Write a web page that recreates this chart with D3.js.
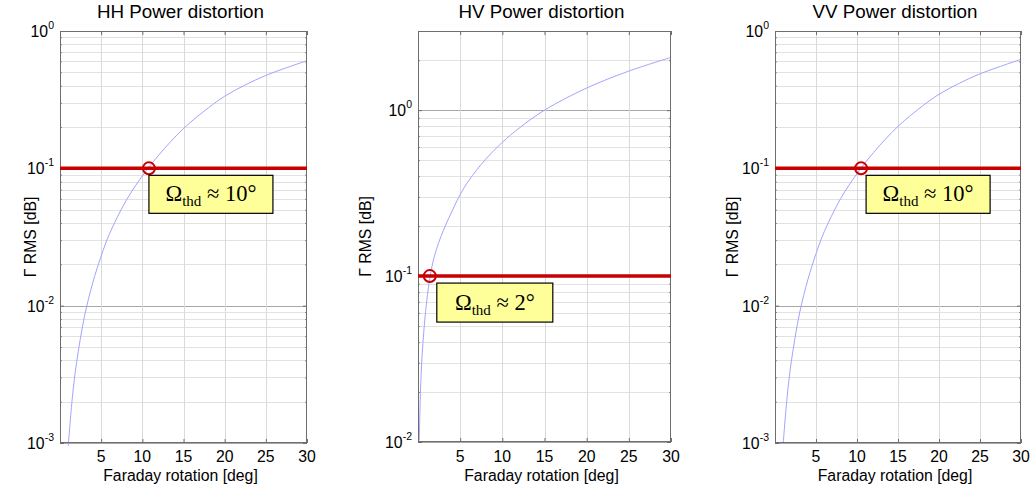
<!DOCTYPE html>
<html>
<head>
<meta charset="utf-8">
<script src="https://cdn.jsdelivr.net/npm/d3@7"></script>
<style>
  html, body { margin: 0; padding: 0; background: #fff; }
  svg { display: block; }
  text { font-family: "Liberation Sans", Arial, sans-serif; fill: #000; }
</style>
</head>
<body>
<svg id="chart" width="1035" height="493"></svg>
<script>
// Panel titles
const titles = ["HH Power distortion", "HV Power distortion", "VV Power distortion"];

// Faraday rotation samples [deg] and Γ RMS [dB] for each channel
const hhAngle = [1, 1.5, 2, 3, 4, 5, 6, 8, 10, 12, 15, 18, 20, 22.5, 25, 27.5, 30];
const hhGamma = [0.00095, 0.00214, 0.0038, 0.0085, 0.0148, 0.023, 0.0332, 0.0578, 0.088, 0.125, 0.195, 0.275, 0.335, 0.405, 0.475, 0.54, 0.608];

const hvAngle = [0.15, 0.3, 0.5, 0.9, 1.4, 2, 3, 4, 5, 6, 8, 10, 12, 15, 20, 25, 30];
const hvGamma = [0.0102, 0.0205, 0.034, 0.061, 0.097, 0.135, 0.188, 0.244, 0.31, 0.375, 0.505, 0.64, 0.78, 1.0, 1.36, 1.72, 2.08];

const vvAngle = [1, 1.5, 2, 3, 4, 5, 6, 8, 10, 12, 15, 18, 20, 22.5, 25, 27.5, 30];
const vvGamma = [0.00099, 0.00223, 0.00395, 0.00885, 0.0154, 0.0239, 0.0345, 0.0601, 0.0915, 0.13, 0.202, 0.285, 0.346, 0.417, 0.488, 0.553, 0.622];

// Threshold level and the rotation at which each curve crosses it
const threshold = [0.1, 0.1, 0.1];
const thdAngle = [10.8, 1.4, 10.5];
const thdLabel = ["10°", "2°", "10°"];

// Axis ticks
const xTicks = [5, 10, 15, 20, 25, 30];
const yDomains = [[0.001, 1], [0.01, 3], [0.001, 1]];
const yExponents = [[0, -1, -2, -3], [0, -1, -2], [0, -1, -2, -3]];

const series = [
  { angle: hhAngle, gamma: hhGamma },
  { angle: hvAngle, gamma: hvGamma },
  { angle: vvAngle, gamma: vvGamma }
];

// Plot-area geometry of the three axes
const frames = [
  { left: 60, right: 307, top: 31, bottom: 443, ylab: 31, box: { dx: 0, dy: 7, w: 124, h: 38 } },
  { left: 418, right: 671, top: 31, bottom: 442, ylab: 366, box: { dx: 7, dy: 7, w: 116, h: 39 } },
  { left: 775, right: 1021, top: 31, bottom: 443, ylab: 733, box: { dx: 5, dy: 7, w: 124, h: 38 } }
];

const svg = d3.select("#chart");

frames.forEach((f, i) => {
  const g = svg.append("g");
  const x = d3.scaleLinear().domain([0, 30]).range([f.left, f.right]);
  const y = d3.scaleLog().domain(yDomains[i]).range([f.bottom, f.top]);

  // horizontal grid: every 1..9 × decade, decades darker
  const [lo, hi] = yDomains[i];
  const minor = [];
  for (let e = Math.floor(Math.log10(lo)); e <= Math.ceil(Math.log10(hi)); e++) {
    for (let m = 1; m <= 9; m++) {
      const v = m * Math.pow(10, e);
      if (v >= lo * 0.9999 && v <= hi * 1.0001) minor.push({ v, major: m === 1 });
    }
  }
  g.append("g").selectAll("line").data(minor).join("line")
    .attr("x1", f.left).attr("x2", f.right)
    .attr("y1", d => Math.round(y(d.v)) + 0.5).attr("y2", d => Math.round(y(d.v)) + 0.5)
    .attr("stroke", d => d.major ? "#a8a8a8" : "#e2e2e2")
    .attr("stroke-width", 1);

  // vertical grid
  g.append("g").selectAll("line").data(xTicks.slice(0, -1)).join("line")
    .attr("x1", d => Math.round(x(d)) + 0.5).attr("x2", d => Math.round(x(d)) + 0.5)
    .attr("y1", f.top).attr("y2", f.bottom)
    .attr("stroke", "#dadada").attr("stroke-width", 1);

  // axes with inward ticks (MATLAB style)
  const xAxisB = d3.axisBottom(x).tickValues(xTicks).tickSize(-4).tickFormat("");
  const xAxisT = d3.axisTop(x).tickValues(xTicks).tickSize(-4).tickFormat("");
  const majorVals = minor.filter(d => d.major).map(d => d.v);
  const minorVals = minor.filter(d => !d.major).map(d => d.v);
  [[d3.axisLeft, f.left], [d3.axisRight, f.right]].forEach(([ax, px]) => {
    g.append("g").attr("transform", `translate(${px},0)`)
      .call(ax(y).tickValues(majorVals).tickSize(-4).tickFormat(""))
      .call(s => s.select(".domain").remove())
      .selectAll("line").attr("stroke", "#6e6e6e");
    g.append("g").attr("transform", `translate(${px},0)`)
      .call(ax(y).tickValues(minorVals).tickSize(-2).tickFormat(""))
      .call(s => s.select(".domain").remove())
      .selectAll("line").attr("stroke", "#8a8a8a");
  });
  g.append("g").attr("transform", `translate(0,${f.bottom})`).call(xAxisB)
    .call(s => s.select(".domain").remove()).selectAll("line").attr("stroke", "#6e6e6e");
  g.append("g").attr("transform", `translate(0,${f.top})`).call(xAxisT)
    .call(s => s.select(".domain").remove()).selectAll("line").attr("stroke", "#6e6e6e");

  // data curve
  const pts = series[i].angle.map((a, k) => [a, series[i].gamma[k]]);
  g.append("path").datum(pts)
    .attr("fill", "none").attr("stroke", "#a3a3ff").attr("stroke-width", 1)
    .attr("d", d3.line().x(d => x(d[0])).y(d => y(d[1])).curve(d3.curveCatmullRom.alpha(0.5)));

  // axes box
  g.append("rect")
    .attr("x", f.left + 0.5).attr("y", f.top + 0.5)
    .attr("width", f.right - f.left - 1).attr("height", f.bottom - f.top - 1)
    .attr("fill", "none").attr("stroke", "#6e6e6e").attr("stroke-width", 1);

  // threshold line and crossing marker
  const ty = y(threshold[i]);
  g.append("line")
    .attr("x1", f.left).attr("x2", f.right).attr("y1", ty).attr("y2", ty)
    .attr("stroke", "#c80000").attr("stroke-width", 3.5);
  g.append("circle")
    .attr("cx", x(thdAngle[i])).attr("cy", ty).attr("r", 6)
    .attr("fill", "none").attr("stroke", "#c80000").attr("stroke-width", 2);

  // annotation box
  const bx = x(thdAngle[i]) + f.box.dx, by = ty + f.box.dy;
  g.append("rect")
    .attr("x", bx).attr("y", by).attr("width", f.box.w).attr("height", f.box.h)
    .attr("fill", "#ffff99").attr("stroke", "#000").attr("stroke-width", 1.2);
  const t = g.append("text")
    .attr("x", bx + f.box.w / 2).attr("y", by + f.box.h / 2 + 7)
    .attr("text-anchor", "middle")
    .style("font-family", "'Liberation Serif', 'Times New Roman', serif")
    .style("font-size", "22.5px");
  t.append("tspan").text("Ω");
  t.append("tspan").attr("dy", 5).style("font-size", "15px").text("thd");
  t.append("tspan").attr("dy", -5).text(" ≈ " + thdLabel[i]);

  // x tick labels
  g.append("g").selectAll("text").data(xTicks).join("text")
    .attr("x", d => x(d)).attr("y", 461.5)
    .attr("text-anchor", "middle").style("font-size", "15.8px")
    .text(d => d);

  // y tick labels 10^n
  yExponents[i].forEach(e => {
    const tt = g.append("text")
      .attr("x", f.left - 6).attr("y", y(Math.pow(10, e)) + 6)
      .attr("text-anchor", "end").style("font-size", "15.8px");
    tt.append("tspan").text("10");
    tt.append("tspan").attr("dy", -8).style("font-size", "10.5px").text(e);
  });

  // titles and axis labels
  g.append("text").attr("x", (f.left + f.right) / 2 - 3).attr("y", 17.5)
    .attr("text-anchor", "middle").style("font-size", "18.8px").text(titles[i]);
  g.append("text").attr("x", (f.left + f.right) / 2 - 3).attr("y", 480.5)
    .attr("text-anchor", "middle").style("font-size", "15.8px").text("Faraday rotation [deg]");
  g.append("text")
    .attr("transform", `translate(${f.ylab + 5},${(f.top + f.bottom) / 2}) rotate(-90)`)
    .attr("text-anchor", "middle").style("font-size", "15.8px").text("Γ RMS [dB]");
});
</script>
</body>
</html>
